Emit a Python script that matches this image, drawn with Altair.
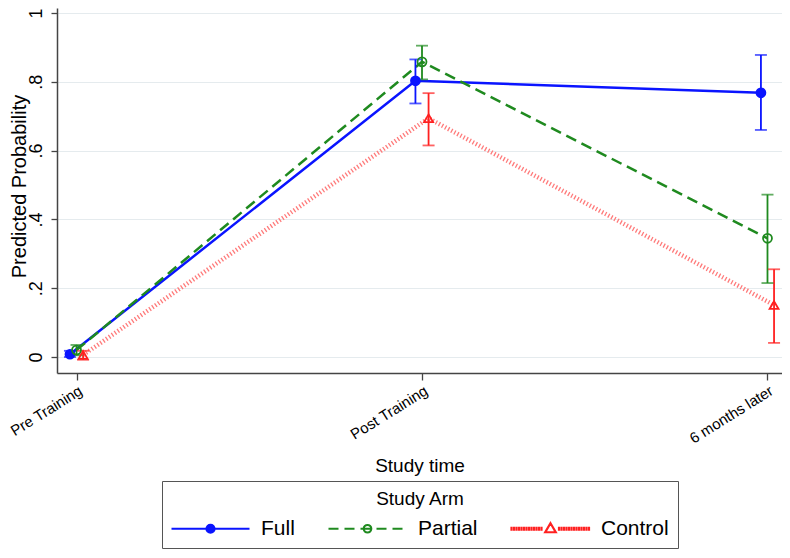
import altair as alt
import pandas as pd

# ---- data ----
times = ["Pre Training", "Post Training", "6 months later"]
arms = ["Full", "Partial", "Control"]

full_est = [0.008, 0.803, 0.768]
full_lo = [0.000, 0.737, 0.660]
full_hi = [0.018, 0.865, 0.878]

partial_est = [0.020, 0.858, 0.345]
partial_lo = [0.005, 0.807, 0.215]
partial_hi = [0.035, 0.905, 0.472]

control_est = [0.006, 0.694, 0.151]
control_lo = [-0.008, 0.615, 0.041]
control_hi = [0.018, 0.767, 0.255]

rows = []
for arm, est, lo, hi in [
    ("Full", full_est, full_lo, full_hi),
    ("Partial", partial_est, partial_lo, partial_hi),
    ("Control", control_est, control_lo, control_hi),
]:
    for i, t in enumerate(times):
        rows.append({"arm": arm, "t": i, "time": t, "est": est[i], "lo": lo[i], "hi": hi[i]})
df = pd.DataFrame(rows)

FONT = "Liberation Sans"
mark_colors = ["#0a14ff", "#1f8a1f", "#ff2020"]

xenc = alt.X(
    "xp:Q",
    scale=alt.Scale(domain=[-0.0565, 2.042], nice=False, zero=False),
    axis=alt.Axis(
        values=[0, 1, 2],
        labelExpr="['Pre Training','Post Training','6 months later'][datum.value]",
        labelAngle=328,
        labelFontSize=15,
        labelPadding=3,
        title="Study time",
        titleFontSize=19,
        titleFontWeight="normal",
        titlePadding=10,
        grid=False,
        tickSize=7,
    ),
)
yscale = alt.Scale(domain=[-0.0465, 1.0145], nice=False, zero=False)
yenc = alt.Y(
    "est:Q",
    scale=yscale,
    axis=alt.Axis(
        values=[0, 0.2, 0.4, 0.6, 0.8, 1],
        labelExpr="datum.value == 0 ? '0' : datum.value == 1 ? '1' : replace(format(datum.value, '.1f'), '0.', '.')",
        labelAngle=270,
        labelFontSize=18,
        labelPadding=6,
        title="Predicted Probability",
        titleFontSize=20,
        titleFontWeight="normal",
        titleX=-38,
        titleY=178,
        titleBaseline="middle",
        titleAlign="center",
        titleAngle=270,
        grid=True,
        gridColor="#e5ebee",
        gridWidth=1,
        tickSize=6,
    ),
)

base = alt.Chart(df).transform_calculate(
    xp="datum.t + (datum.arm == 'Full' ? -0.019 : datum.arm == 'Control' ? 0.019 : 0)"
)

line_full = base.transform_filter("datum.arm == 'Full'").mark_line(
    color="#0a14ff", strokeWidth=2.5
).encode(x=xenc, y=yenc)
line_partial = base.transform_filter("datum.arm == 'Partial'").mark_line(
    color="#1f8a1f", strokeWidth=2.5, strokeDash=[11, 6]
).encode(x="xp:Q", y=alt.Y("est:Q", scale=yscale))
line_control = base.transform_filter("datum.arm == 'Control'").mark_line(
    color="#ff7a7a", strokeWidth=4.5, strokeDash=[1.3, 2.2], strokeCap="butt"
).encode(x="xp:Q", y=alt.Y("est:Q", scale=yscale))

ecol = alt.Color("arm:N", scale=alt.Scale(domain=arms, range=mark_colors), legend=None)

rules = base.mark_rule(strokeWidth=1.8).encode(
    x="xp:Q", y=alt.Y("lo:Q", scale=yscale), y2="hi:Q", color=ecol
)
caps_lo = base.mark_tick(orient="horizontal", size=12, thickness=1.8).encode(
    x="xp:Q", y=alt.Y("lo:Q", scale=yscale), color=ecol
)
caps_hi = base.mark_tick(orient="horizontal", size=12, thickness=1.8).encode(
    x="xp:Q", y=alt.Y("hi:Q", scale=yscale), color=ecol
)

points = base.mark_point(size=80, strokeWidth=1.8, opacity=1).encode(
    x="xp:Q",
    y=alt.Y("est:Q", scale=yscale),
    stroke=alt.Stroke("arm:N", scale=alt.Scale(domain=arms, range=mark_colors), legend=None),
    fill=alt.Fill("arm:N", scale=alt.Scale(domain=arms, range=["#0a14ff", "transparent", "transparent"]), legend=None),
    shape=alt.Shape("arm:N", scale=alt.Scale(domain=arms, range=["circle", "circle", "triangle-up"]), legend=None),
)

# legend symbols: line with marker, as custom paths (unit scale = 5 px)
def circle(cx, r):
    return f"M{cx - r},0a{r},{r} 0 1,0 {2 * r},0a{r},{r} 0 1,0 {-2 * r},0"

L0, L1 = -2.0, 13.6
MID = (L0 + L1) / 2
p_full = f"M{L0},0L{L1},0" + circle(MID, 0.8)
segs = []
x = L0
while x < L1:
    segs.append(f"M{x:.2f},0L{min(x + 2.0, L1):.2f},0")
    x += 3.2
p_partial = "".join(segs) + circle(MID, 0.75)
ticks = []
x = L0
while x < L1:
    if abs(x - MID) > 1.3:
        ticks.append(f"M{x:.2f},-0.4L{x:.2f},0.4")
    x += 0.5
p_control = "".join(ticks) + f"M{MID},-1.1L{MID + 1.05},0.7L{MID - 1.05},0.7Z"

legend_title = "Study Arm"
legend_layer = base.transform_filter("false").mark_point(opacity=1).encode(
    x="xp:Q",
    y=alt.Y("est:Q", scale=yscale),
    stroke=alt.Stroke("arm:N", scale=alt.Scale(domain=arms, range=mark_colors), title=legend_title),
    fill=alt.Fill("arm:N", scale=alt.Scale(domain=arms, range=["#0a14ff", "transparent", "transparent"]), title=legend_title),
    strokeWidth=alt.StrokeWidth("arm:N", scale=alt.Scale(domain=arms, range=[2.2, 2.2, 1.1]), title=legend_title),
    shape=alt.Shape(
        "arm:N",
        scale=alt.Scale(domain=arms, range=[p_full, p_partial, p_control]),
        title=legend_title,
        legend=alt.Legend(
            orient="none",
            legendX=105,
            legendY=473,
            direction="horizontal",
            titleAnchor="middle",
            titleFontSize=19,
            titleFontWeight="normal",
            titleFont=FONT,
            titleColor="#000",
            titlePadding=9,
            labelFontSize=21,
            labelFont=FONT,
            labelColor="#000",
            labelOffset=69,
            symbolSize=100,
            columnPadding=29,
            padding=9,
            strokeColor="#555",
            symbolOpacity=1,
        ),
    ),
)

chart = (
    alt.layer(line_full, line_partial, line_control, rules, caps_lo, caps_hi, points, legend_layer)
    .resolve_scale(color="independent", stroke="independent", fill="independent",
                   shape="independent", strokeWidth="independent")
    .properties(
        width=725,
        height=365,
        autosize=alt.AutoSizeParams(type="none"),
        padding={"left": 49, "top": 0, "right": 0, "bottom": 177},
    )
    .configure_view(stroke=None)
    .configure_axis(
        domainColor="#444",
        domainWidth=1.5,
        tickColor="#444",
        tickWidth=1.3,
        labelColor="#000",
        titleColor="#000",
        labelFont=FONT,
        titleFont=FONT,
    )
)

chart.save("out.html", embed_options={"renderer": "svg", "actions": False})
